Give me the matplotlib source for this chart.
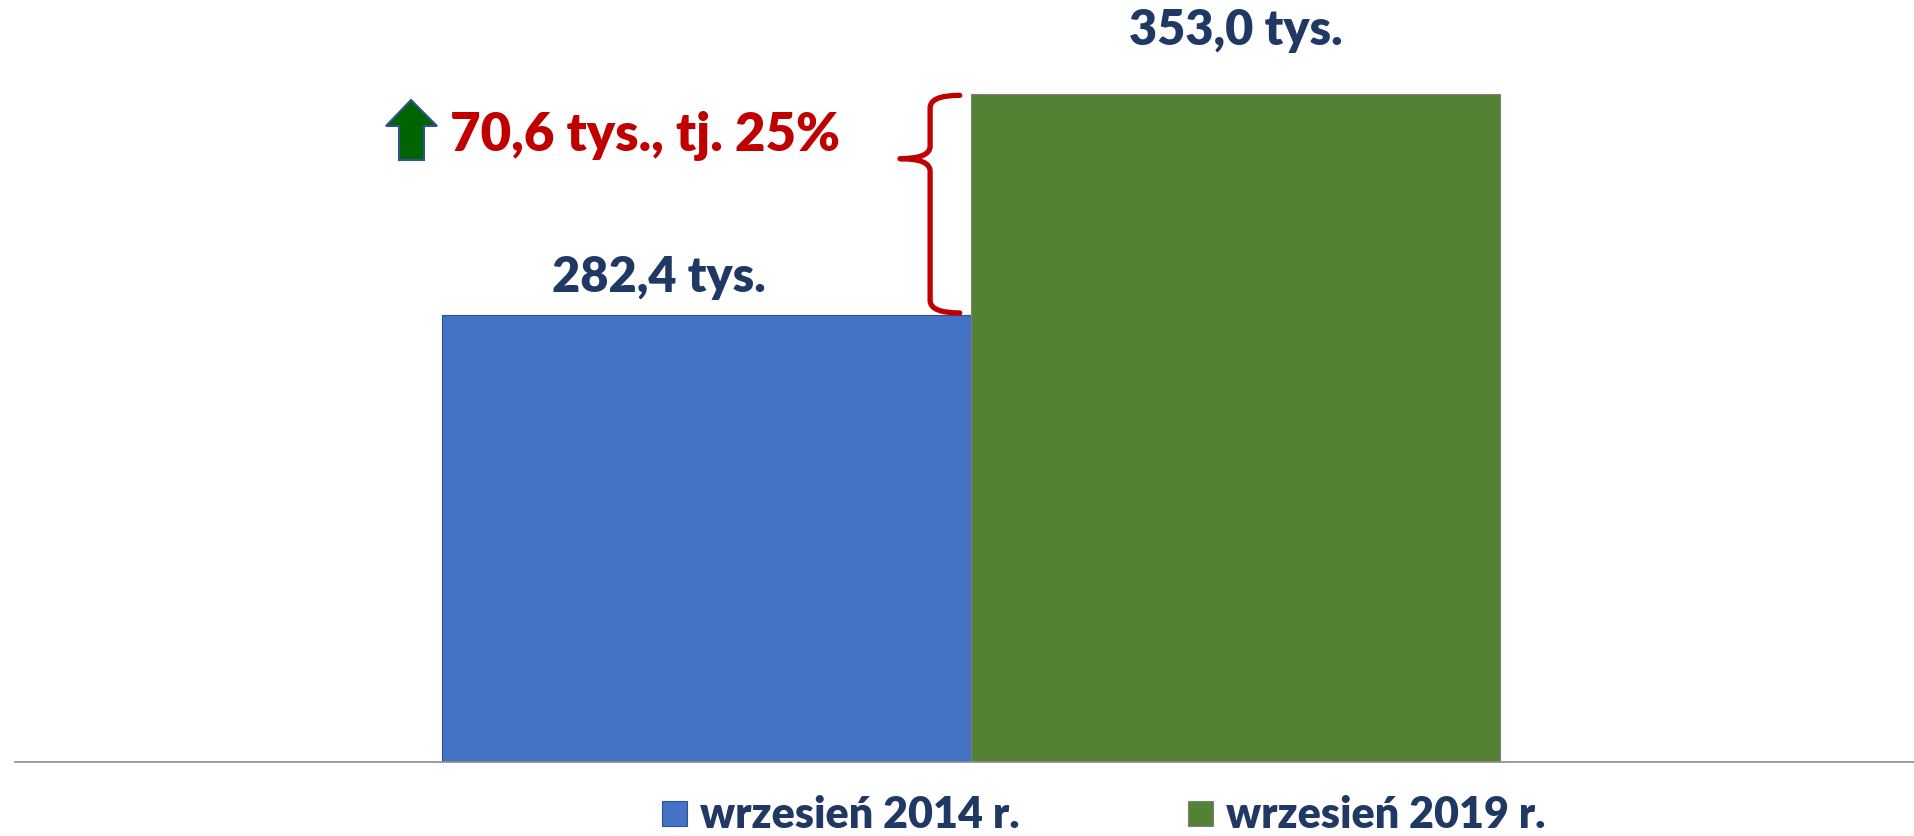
import matplotlib
matplotlib.use("Agg")
import matplotlib.pyplot as plt
from matplotlib.path import Path
from matplotlib.patches import PathPatch, Polygon
from matplotlib.lines import Line2D

# data
periods = ["wrzesień 2014 r.", "wrzesień 2019 r."]
values = [282.4, 353.0]
value_labels = ["282,4 tys.", "353,0 tys."]
change_label = "70,6 tys., tj. 25%"
bar_colors = ["#4472C4", "#548235"]
edge_colors = ["#2F528F", "#7F7F7F"]

navy = "#1F3864"
red = "#C00000"
plt.rcParams["font.family"] = ["Lato", "DejaVu Sans"]
weight = "heavy"

W, H = 1914, 836
fig = plt.figure(figsize=(W / 100, H / 100), dpi=100)
ax = fig.add_axes([15 / W, 74 / H, 1 - 15 / W, 762 / H])

xs = [0, 1]
ax.bar(xs, values, width=1.0, bottom=0, color=bar_colors, edgecolor=edge_colors, linewidth=0.8)
ax.set_xlim(-1.307, 2.283)
ax.set_ylim(140, 383)

for s in ["top", "right", "left"]:
    ax.spines[s].set_visible(False)
ax.spines["bottom"].set_color("#8C8C8C")
ax.spines["bottom"].set_linewidth(1.2)
ax.set_xticks([])
ax.set_yticks([])

# value labels
ax.text(xs[0] - 0.09, values[0] + 7.6, value_labels[0], ha="center", va="baseline",
        fontsize=35, fontweight=weight, color=navy)
ax.text(xs[1], values[1] + 15.8, value_labels[1], ha="center", va="baseline",
        fontsize=35, fontweight=weight, color=navy)

# brace between the two tops
top, bot = values[1] - 0.4, values[0] + 0.8
tip_y = 332.4
xe, xs_, xt = 0.479, 0.423, 0.366
r = 4.0
verts = [
    (xe, top), (xs_, top), (xs_, top - r),
    (xs_, tip_y + r), (xs_, tip_y), (xt, tip_y),
    (xs_, tip_y), (xs_, tip_y - r),
    (xs_, bot + r), (xs_, bot), (xe, bot),
]
codes = [Path.MOVETO, Path.CURVE3, Path.CURVE3,
         Path.LINETO, Path.CURVE3, Path.CURVE3,
         Path.CURVE3, Path.CURVE3,
         Path.LINETO, Path.CURVE3, Path.CURVE3]
ax.add_patch(PathPatch(Path(verts, codes), fill=False, edgecolor=red, linewidth=3.8,
                       capstyle="round", joinstyle="round"))

# change annotation with up arrow
ax.text(-0.485, 335.0, change_label, ha="left", va="baseline",
        fontsize=38, fontweight=weight, color=red)

arrow_px = [(411, 100), (437, 126), (424, 126), (424, 160), (399, 160), (399, 126), (386, 126)]
arrow = Polygon([(x / W, 1 - y / H) for x, y in arrow_px], closed=True,
                transform=fig.transFigure, facecolor="#006400", edgecolor="#2F528F", linewidth=1.5)
fig.patches.append(arrow)

# legend
handles = [Line2D([], [], marker="s", linestyle="none", markersize=18,
                  markerfacecolor=c, markeredgecolor=e, markeredgewidth=0.8)
           for c, e in zip(bar_colors, edge_colors)]
leg = fig.legend(handles, periods, loc="center", bbox_to_anchor=(1099 / W, 1 - 815 / H),
                 ncol=2, frameon=False, fontsize=31, handletextpad=0.1, columnspacing=3.7,
                 handlelength=1.0, borderpad=0)
for t in leg.get_texts():
    t.set_color(navy)
    t.set_fontweight(weight)

fig.savefig("out.png", dpi=100)
